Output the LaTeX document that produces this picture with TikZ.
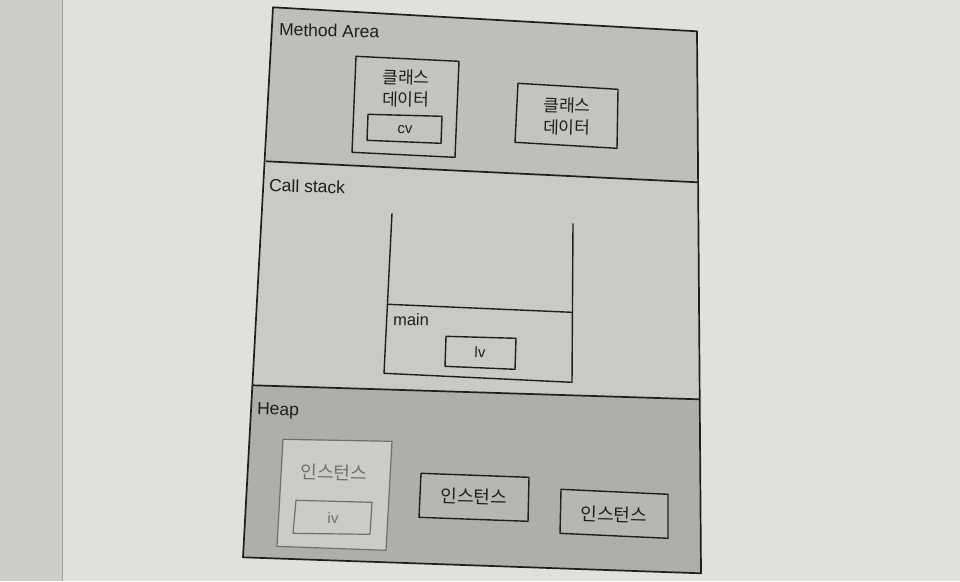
\documentclass[tikz,border=0pt]{standalone}
\usepackage{fontspec}
\setmainfont{Liberation Sans}
\newfontfamily\kr{Noto Sans CJK KR}
\definecolor{stripc}{RGB}{204,204,201}
\definecolor{pagec}{RGB}{224,224,221}
\definecolor{methodc}{RGB}{190,190,187}
\definecolor{stackc}{RGB}{201,201,198}
\definecolor{heapc}{RGB}{174,174,171}
\definecolor{faintc}{RGB}{203,203,200}
\definecolor{inkc}{RGB}{30,30,30}
\definecolor{fadec}{RGB}{110,110,108}
\begin{document}
\begin{tikzpicture}[x=1pt,y=-1pt,
  edge/.style={draw=inkc,line width=1.7pt,line join=round},
  inbox/.style={draw=inkc,line width=1.4pt,line join=round},
  fadebox/.style={draw=fadec,line width=1.2pt,line join=round},
  lbl/.style={inner sep=0pt,anchor=west,rotate=-1.5,text=inkc,font=\fontsize{17.5}{17.5}\selectfont},
  krt/.style={inner sep=0pt,rotate=-1.5,text=inkc,align=center,font=\kr\fontsize{17}{22}\selectfont},
  smt/.style={inner sep=0pt,rotate=-1.5,text=inkc,font=\fontsize{15}{15}\selectfont}]
% background page
\fill[pagec] (0,0) rectangle (960,581);
\fill[stripc] (0,0) rectangle (62,581);
\draw[color=stripc!80!black,line width=0.6pt] (62,0) -- (62,581);
\useasboundingbox (0,0) rectangle (960,581);
% outer corners and dividers
\coordinate (OTL) at (273,7);
\coordinate (OTR) at (697,31);
\coordinate (OBL) at (243,557);
\coordinate (OBR) at (701,573);
\coordinate (D1L) at (266,161);
\coordinate (D1R) at (698,182);
\coordinate (D2L) at (253,385);
\coordinate (D2R) at (699,399);
% region fills
\fill[methodc] (OTL) -- (OTR) -- (D1R) -- (D1L) -- cycle;
\fill[stackc] (D1L) -- (D1R) -- (D2R) -- (D2L) -- cycle;
\fill[heapc] (D2L) -- (D2R) -- (OBR) -- (OBL) -- cycle;
\path[edge] (OTL) -- (OTR) -- (OBR) -- (OBL) -- cycle;
\path[edge] (D1L) -- (D1R);
\path[edge] (D2L) -- (D2R);
% labels of areas
\node[lbl] (tMethod) at (279,29) {Method Area};
\node[lbl] (tCall) at (269,185) {Call stack};
\node[lbl] (tHeap) at (257,410) {Heap};
% Method area boxes
\path[inbox,fill=methodc!92!white] (356,56) -- (459,61) -- (455,157) -- (352,152) -- cycle;
\node[krt] (cls1) at (406,88) {클래스\\데이터};
\path[inbox] (368,114) -- (442,116) -- (441,143) -- (367,140) -- cycle;
\node[smt] (cv) at (405,129) {cv};
\path[inbox,fill=methodc!92!white] (518,83) -- (618,89) -- (617,148) -- (515,142) -- cycle;
\node[krt] (cls2) at (567,116) {클래스\\데이터};
% Call stack
\path[inbox] (392,213) -- (384,373) -- (572,382) -- (573,223);
\path[inbox] (388,304) -- (572,312);
\node[lbl,font=\fontsize{16.5}{16.5}\selectfont] (tMain) at (393,319) {main};
\path[inbox] (446,336) -- (516,338) -- (515,369) -- (445,366) -- cycle;
\node[smt] (lv) at (480,352) {lv};
% Heap
\path[fadebox,fill=faintc] (283,439) -- (392,441) -- (386,550) -- (277,546) -- cycle;
\node[krt,text=fadec,font=\kr\fontsize{18}{18}\selectfont] (inst1) at (334,472) {인스턴스};
\path[fadebox] (296,500) -- (372,502) -- (370,534) -- (293,533) -- cycle;
\node[smt,text=fadec] (iv) at (333,518) {iv};
\path[inbox,fill=heapc!90!white] (421,473) -- (529,477) -- (528,521) -- (419,517) -- cycle;
\node[krt,font=\kr\fontsize{18}{18}\selectfont] (inst2) at (474,496) {인스턴스};
\path[inbox,fill=heapc!90!white] (561,489) -- (668,494) -- (668,538) -- (560,533) -- cycle;
\node[krt,font=\kr\fontsize{18}{18}\selectfont] (inst3) at (614,514) {인스턴스};
\end{tikzpicture}
\end{document}
